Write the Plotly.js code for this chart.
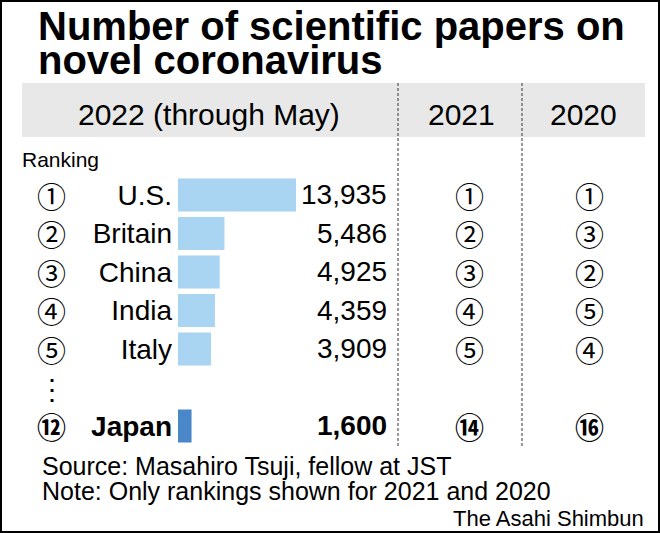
<!DOCTYPE html>
<html><head><meta charset="utf-8">
<script src="https://cdn.plot.ly/plotly-3.0.1.min.js"></script>
<style>html,body{margin:0;padding:0;background:#fff}#chart{width:660px;height:533px}</style>
</head><body><div id="chart"></div>
<script>
const countries = ['U.S.','Britain','China','India','Italy','Japan'];
const papers2022 = [13935,5486,4925,4359,3909,1600];
const rank2022 = [1,2,3,4,5,12];
const rank2021 = [1,2,3,4,5,14];
const rank2020 = [1,3,2,5,4,16];
const highlight = 'Japan';
const gapLabel = '…';
const columnTitles = ['2022 (through May)','2021','2020'];
const titleLines = ['Number of scientific papers on','novel coronavirus'];
const rankingLabel = 'Ranking';
const sourceText = 'Source: Masahiro Tsuji, fellow at JST';
const noteText = 'Note: Only rankings shown for 2021 and 2020';
const creditText = 'The Asahi Shimbun';

const W = 660, H = 533;
const px = x => x / W;
const py = y => 1 - y / H;
const circled = n => String.fromCharCode(0x245F + n);
const fmt = v => v.toLocaleString('en-US');
const SANS = 'Liberation Sans, Arial, sans-serif';
const CJK = 'Noto Sans CJK JP, sans-serif';

const rowOrder = countries.slice(0, 5).concat([gapLabel], countries.slice(5));

const trace = {
  type: 'bar', orientation: 'h',
  y: countries, x: papers2022,
  width: 0.86,
  marker: {color: countries.map(c => c === highlight ? '#4a87c9' : '#a9d4f2'), line: {width: 0}},
  hoverinfo: 'skip'
};

const ann = [];
function txt(text, x, y, opts) {
  ann.push(Object.assign({
    text: text, x: x, y: y, xref: 'paper', yref: 'paper', showarrow: false,
    xanchor: 'left', yanchor: 'middle', align: 'left',
    font: {family: SANS, size: 28, color: '#000'}
  }, opts || {}));
}

// Title
txt('<b>' + titleLines[0] + '</b>', px(36), py(26), {font: {family: SANS, size: 40, color: '#000'}});
txt('<b>' + titleLines[1] + '</b>', px(36), py(60), {font: {family: SANS, size: 40, color: '#000'}});
// Column headers
txt(columnTitles[0], px(209), py(114), {xanchor: 'center', font: {family: SANS, size: 30, color: '#000'}});
txt(columnTitles[1], px(462), py(114), {xanchor: 'center', font: {family: SANS, size: 30, color: '#000'}});
txt(columnTitles[2], px(583), py(114), {xanchor: 'center', font: {family: SANS, size: 30, color: '#000'}});
txt(rankingLabel, px(20), py(159), {font: {family: SANS, size: 21, color: '#000'}});

// Values and ranks per row
countries.forEach((c, i) => {
  const bold = c === highlight;
  const b = s => bold ? '<b>' + s + '</b>' : s;
  txt(b(fmt(papers2022[i])), px(389), c, {yref: 'y', xanchor: 'right', font: {family: SANS, size: 28, color: '#000'}});
  [[rank2022, 52], [rank2021, 469], [rank2020, 589]].forEach(([arr, xc]) => {
    txt(b(circled(arr[i])), px(xc), c, {yref: 'y', xanchor: 'center', font: {family: CJK, size: 29, color: '#000'}});
  });
});
txt('⋮', px(52), gapLabel, {yref: 'y', xanchor: 'center', font: {family: CJK, size: 28, color: '#000'}});

// Footer
txt(sourceText, px(40), py(466), {font: {family: SANS, size: 25, color: '#000'}});
txt(noteText, px(40), py(491), {font: {family: SANS, size: 25, color: '#000'}});
txt(creditText, px(646), py(518), {xanchor: 'right', font: {family: SANS, size: 22, color: '#000'}});

const shapes = [
  {type: 'rect', xref: 'paper', yref: 'paper', x0: px(22), x1: px(645), y0: py(137), y1: py(83),
   fillcolor: '#e8e8e8', line: {width: 0}, layer: 'below'},
  {type: 'line', xref: 'paper', yref: 'paper', x0: px(398), x1: px(398), y0: py(83), y1: py(446),
   line: {color: '#333', width: 1, dash: '3px,2px'}, layer: 'above'},
  {type: 'line', xref: 'paper', yref: 'paper', x0: px(522), x1: px(522), y0: py(83), y1: py(446),
   line: {color: '#333', width: 1, dash: '3px,2px'}, layer: 'above'},
  {type: 'rect', xref: 'paper', yref: 'paper', x0: px(1), x1: px(659), y0: py(532), y1: py(1),
   line: {color: '#000', width: 2}, fillcolor: 'rgba(0,0,0,0)', layer: 'above'}
];

const layout = {
  width: W, height: H,
  margin: {l: 0, r: 0, t: 0, b: 0},
  paper_bgcolor: '#fff', plot_bgcolor: 'rgba(0,0,0,0)',
  showlegend: false,
  xaxis: {domain: [px(178), px(388)], range: [0, 24800], visible: false, fixedrange: true},
  yaxis: {
    domain: [py(445.25), py(175.75)],
    type: 'category', categoryorder: 'array', categoryarray: rowOrder,
    range: [rowOrder.length - 0.5, -0.5],
    tickmode: 'array', tickvals: rowOrder,
    ticktext: rowOrder.map(c => c === highlight ? '<b>' + c + '</b>' : (c === gapLabel ? '' : c)),
    tickfont: {family: SANS, size: 28, color: '#000'},
    ticks: '', ticklabelstandoff: 5,
    showgrid: false, zeroline: false, showline: false, fixedrange: true
  },
  annotations: ann,
  shapes: shapes
};

Plotly.newPlot('chart', [trace], layout, {displayModeBar: false, staticPlot: true});
</script>
</body></html>
